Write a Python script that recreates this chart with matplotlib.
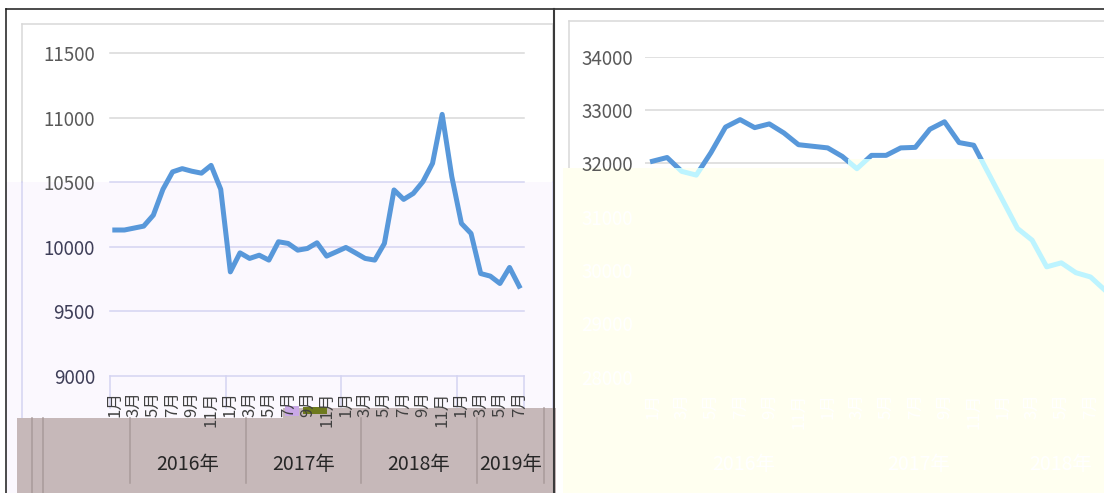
import matplotlib
matplotlib.use("Agg")
import matplotlib.pyplot as plt
import matplotlib.patches as mpatches
import matplotlib.transforms as mtrans

plt.rcParams['font.family'] = ['Noto Sans CJK SC', 'DejaVu Sans']

# ---- data ----
years = ["2016年", "2017年", "2018年", "2019年"]
months = [m for y in range(4) for m in range(1, 13)][:43]   # 2016-01 .. 2019-07
left_vals = [10130, 10130, 10145, 10160, 10245, 10445, 10580, 10605, 10585, 10570, 10630, 10445,
             9806, 9953, 9910, 9935, 9897, 10039, 10026, 9974, 9987, 10031, 9928, 9961,
             9995, 9953, 9910, 9897, 10026, 10440, 10367, 10413, 10504, 10646, 11025, 10543,
             10181, 10103, 9793, 9773, 9716, 9840, 9695]
left_ticks = [9000, 9500, 10000, 10500, 11000, 11500]

right_vals = [32040, 32110, 31850, 31780, 32200, 32680, 32820, 32670, 32740, 32570, 32350, 32320,
              32290, 32130, 31900, 32150, 32150, 32290, 32300, 32640, 32780, 32390, 32340, 31820,
              31300, 30780, 30560, 30060, 30135, 29950, 29870, 29620]
right_ticks = [28000, 29000, 30000, 31000, 32000, 33000, 34000]

W, H = 1104, 493
BLUE = '#5898DA'
GRID = '#D9D9D9'
LAV = '#D4D4F2'

fig = plt.figure(figsize=(W / 100, H / 100), dpi=100)

# background layer in pixel coords
bg = fig.add_axes([0, 0, 1, 1], zorder=0)
bg.set_xlim(0, W)
bg.set_ylim(H, 0)
bg.axis('off')
bg.add_patch(mpatches.Rectangle((6, 182), 548, 311, fc='#FBF8FE', ec='none'))
# inner chart boxes
bg.plot([21.7, 552.7], [24, 24], color=GRID, lw=1.1)
bg.plot([21.7, 21.7], [24, 182], color=GRID, lw=1.1)
bg.plot([21.7, 21.7], [182, 418], color=LAV, lw=1.1)
bg.plot([552.7, 552.7], [24, 182], color=GRID, lw=1.1)
bg.plot([552.7, 552.7], [182, 408], color=LAV, lw=1.1)
bg.plot([569.3, W], [21.3, 21.3], color=GRID, lw=1.1)
bg.plot([569.3, 569.3], [21.3, 168], color=GRID, lw=1.1)

# ---- left chart ----
ax1 = fig.add_axes([110 / W, 1 - 376 / H, 414 / W, 323 / H], zorder=1)
ax1.patch.set_visible(False)
for s in ax1.spines.values():
    s.set_visible(False)
ax1.set_xlim(-0.5, len(left_vals) - 0.5)
ax1.set_ylim(9000, 11500)
for t in left_ticks:
    ax1.axhline(t, color=GRID if t > 10500 else LAV, lw=1.1, zorder=0.5, clip_on=False)
ax1.plot(range(len(left_vals)), left_vals, color=BLUE, lw=3.6, zorder=2)

ax1.set_yticks(left_ticks)
ax1.tick_params(axis='y', length=0, pad=10.8, labelsize=13.5, labelcolor='#595959')
for lbl, t in zip(ax1.get_yticklabels(), left_ticks):
    if t <= 10000:
        lbl.set_color('#3E3E58')
odd = [i for i, m in enumerate(months) if m % 2 == 1]
ax1.set_xticks(odd, [f"{months[i]}月" for i in odd], rotation=90)
ax1.tick_params(axis='x', length=0, pad=11, labelsize=12, labelcolor='#404040')
ax1.set_axisbelow(False)

ymix1 = mtrans.blended_transform_factory(ax1.transData, bg.transData)
shift = ymix1 + mtrans.ScaledTranslation(0.20, 0, fig.dpi_scale_trans)
bounds = [-0.5, 11.5, 23.5, 35.5, len(left_vals) - 0.5]
for b in bounds:
    ax1.plot([b, b], [376, 408], color=LAV, lw=1.1, transform=ymix1, clip_on=False, zorder=1)

# brownish band under the category axis
ax1.add_patch(mpatches.Rectangle((17, 418), 266, 75, fc='#C6B8B9', ec='none',
                                 transform=bg.transData, clip_on=False, zorder=1.2))
ax1.add_patch(mpatches.Rectangle((283, 408), 273, 85, fc='#C6B8B9', ec='none',
                                 transform=bg.transData, clip_on=False, zorder=1.2))
ax1.add_patch(mpatches.Rectangle((285, 406), 14, 10, fc='#C9A8E6', ec='none',
                                 transform=bg.transData, clip_on=False, zorder=1.3))
ax1.add_patch(mpatches.Rectangle((303, 407), 24, 7, fc='#6E7A1E', ec='none',
                                 transform=bg.transData, clip_on=False, zorder=1.3))
for xp in [32, 43]:
    ax1.plot([xp, xp], [418, 493], color='#A89A9A', lw=1.1, transform=bg.transData,
             clip_on=False, zorder=1.3)
for b in bounds:
    top = 408 if b == bounds[-1] else 418
    ax1.plot([b, b], [top, 483], color='#A89A9A', lw=1.1, transform=shift,
             clip_on=False, zorder=1.3)
for k, yr in enumerate(years):
    lo, hi = bounds[k], bounds[k + 1]
    ax1.text((lo + hi) / 2, 465, yr, transform=shift, ha='center', va='center',
             fontsize=14, color='#262626', zorder=3, clip_on=False)

# ---- right chart ----
step = 14.6
x0 = 645.2
ax2 = fig.add_axes([x0 / W, 1 - 376.7 / H, (W - x0) / W, 320 / H], zorder=1)
ax2.patch.set_visible(False)
for s in ax2.spines.values():
    s.set_visible(False)
ax2.set_xlim(-0.5, (W - x0) / step - 0.5)
ax2.set_ylim(28000, 34000)
for t in right_ticks:
    ax2.axhline(t, color=GRID, lw=1.1, zorder=0.5)
ax2.plot(range(len(right_vals)), right_vals, color=BLUE, lw=3.6, zorder=3)

ax2.set_yticks(right_ticks)
ax2.tick_params(axis='y', length=0, pad=8.6, labelsize=13.5, labelcolor='#595959')
for lbl, t in zip(ax2.get_yticklabels(), right_ticks):
    if t < 32000:
        lbl.set_color('white')
ax2.yaxis.set_zorder(7)
r_odd = [i for i in range(len(right_vals)) if months[i] % 2 == 1]
ax2.set_xticks(r_odd, [f"{months[i]}月" for i in r_odd], rotation=90)
ax2.tick_params(axis='x', length=0, pad=12, labelsize=12, labelcolor='white')
ax2.xaxis.set_zorder(7)

# pale yellow overlay on the lower right part
poly = mpatches.Polygon([(563, 168), (848, 168), (848, 159), (W, 159), (W, H), (563, H)],
                        closed=True, fc='#FFFFF0', ec='none', transform=bg.transData,
                        clip_on=False, zorder=4)
ax2.add_patch(poly)
pale, = ax2.plot(range(len(right_vals)), right_vals, color='#BDF4FF', lw=3.6, zorder=5)
pale.set_clip_path(poly)

ymix2b = mtrans.blended_transform_factory(ax2.transData, bg.transData)
xmax = (W - x0) / step - 0.5
for k, yr in enumerate(years[:3]):
    lo, hi = bounds[k], min(bounds[k + 1], xmax)
    ax2.text((lo + hi) / 2 + 0.75, 465, yr, transform=ymix2b, ha='center', va='center',
             fontsize=14, color='white', zorder=7, clip_on=False)

# ---- outer frame on top ----
fg = fig.add_axes([0, 0, 1, 1], zorder=3)
fg.set_xlim(0, W)
fg.set_ylim(H, 0)
fg.axis('off')
fg.patch.set_visible(False)
fg.plot([6, W], [9, 9], color='#1A1A1A', lw=1.1)
fg.plot([6, 6], [9, H], color='#1A1A1A', lw=1.1)
fg.plot([554.3, 554.3], [9, H], color='#3A3A3A', lw=1.5)

fig.savefig("out.png", dpi=100)
